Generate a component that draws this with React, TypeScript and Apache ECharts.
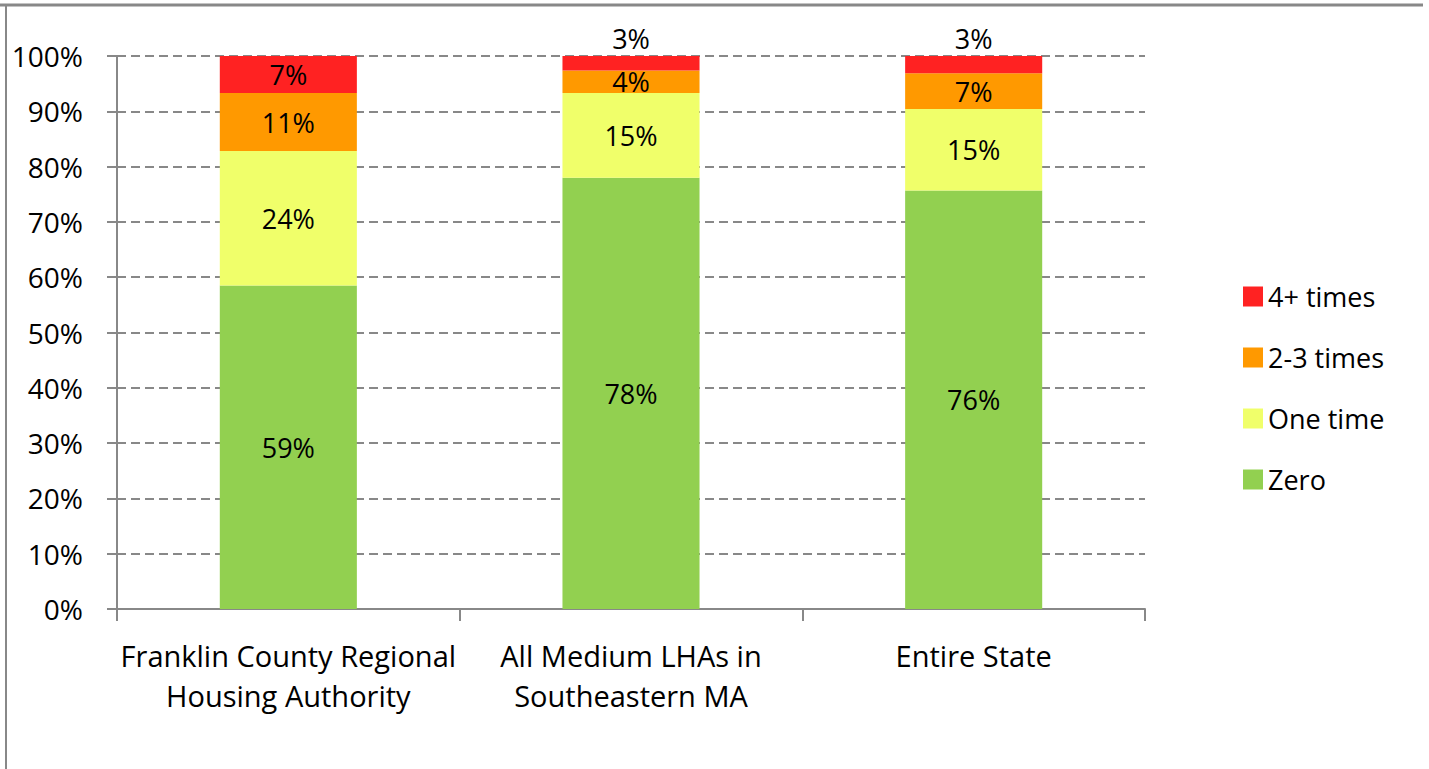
import React, { useEffect, useRef } from "react";
import * as echarts from "echarts";

const categories = [
  "Franklin County Regional\nHousing Authority",
  "All Medium LHAs in\nSoutheastern MA",
  "Entire State",
];
const seriesNames = ["Zero", "One time", "2-3 times", "4+ times"];
const zeroValues = [58.5, 78.0, 75.7];
const oneTimeValues = [24.3, 15.3, 14.7];
const twoThreeValues = [10.5, 4.1, 6.5];
const fourPlusValues = [6.7, 2.6, 3.1];
const yTicks = [0, 10, 20, 30, 40, 50, 60, 70, 80, 90, 100];
const legendOrder = ["4+ times", "2-3 times", "One time", "Zero"];

const colors = ["#92D050", "#F0FF6A", "#FF9900", "#FF2222"];
const FONT = "Open Sans";

export default function App() {
  const ref = useRef<HTMLDivElement>(null);
  useEffect(() => {
    if (!ref.current) return;
    const chart = echarts.init(ref.current, null, { renderer: "svg" });
    const allValues = [zeroValues, oneTimeValues, twoThreeValues, fourPlusValues];
    const series = allValues.map((vals, si) => ({
      name: seriesNames[si],
      type: "bar",
      stack: "total",
      barWidth: "40%",
      itemStyle: { color: colors[si] },
      label: {
        show: true,
        position: "inside",
        color: "#000",
        fontSize: 27,
        fontFamily: FONT,
        formatter: (p: any) => Math.round(p.value) + "%",
      },
      data: vals.map((v) =>
        si === 3 && v < 5 ? { value: v, label: { position: "top", distance: 4 } } : { value: v }
      ),
    }));
    chart.setOption({
      animation: false,
      textStyle: { fontFamily: FONT },
      grid: { left: 117, right: 284, top: 56, bottom: 160 },
      legend: {
        data: legendOrder,
        orient: "vertical",
        left: 1238,
        top: 278,
        itemWidth: 20,
        itemHeight: 20,
        itemGap: 34,
        icon: "rect",
        textStyle: { fontSize: 27, color: "#000", fontFamily: FONT },
      },
      xAxis: {
        type: "category",
        data: categories,
        axisLine: { lineStyle: { color: "#888", width: 2 } },
        axisTick: { show: true, length: 12, lineStyle: { color: "#888", width: 2 } },
        axisLabel: {
          color: "#000",
          fontSize: 29,
          lineHeight: 40,
          margin: 26,
          fontFamily: FONT,
          interval: 0,
        },
      },
      yAxis: {
        type: "value",
        min: yTicks[0],
        max: yTicks[yTicks.length - 1],
        interval: 10,
        axisLine: { show: true, lineStyle: { color: "#888", width: 2 } },
        axisTick: { show: true, length: 10, lineStyle: { color: "#888", width: 2 } },
        splitLine: { lineStyle: { color: "#888", width: 2, type: [9, 5] } },
        axisLabel: {
          color: "#000",
          fontSize: 28,
          margin: 34,
          fontFamily: FONT,
          formatter: "{value}%",
        },
      },
      graphic: [
        { type: "line", shape: { x1: 0, y1: 5, x2: 1423, y2: 5 }, style: { stroke: "#888", lineWidth: 3 } },
        { type: "line", shape: { x1: 6, y1: 5, x2: 6, y2: 769 }, style: { stroke: "#888", lineWidth: 2 } },
      ],
      series,
    });
    return () => chart.dispose();
  }, []);
  return (
    <div
      ref={ref}
      style={{ position: "absolute", left: 0, top: 0, width: 1429, height: 769, background: "#fff" }}
    />
  );
}
